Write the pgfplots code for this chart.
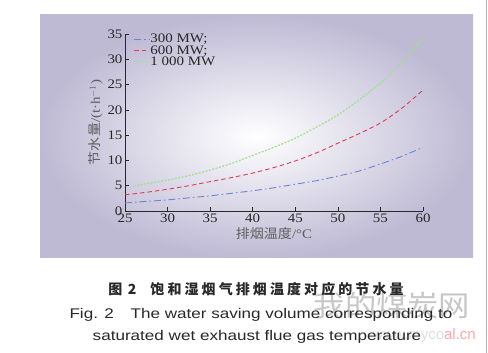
\documentclass[border=0pt]{standalone}
\usepackage{pgfplots}
\pgfplotsset{compat=1.18}
\usepackage{fontspec}
\setmainfont{Liberation Serif}[FakeStretch=1.15]
\newfontfamily\cjk{Noto Sans CJK SC}[FakeStretch=1.08]
\newfontfamily\cjkcap{Noto Sans CJK SC}[LetterSpace=22]
\newfontfamily\arial{Liberation Sans}[FakeStretch=1.22]
\newfontfamily\arialplain{Liberation Sans}
\definecolor{panel}{RGB}{190,186,212}
\definecolor{c300}{RGB}{110,130,215}
\definecolor{c600}{RGB}{225,60,90}
\definecolor{c1000}{RGB}{160,225,140}
\definecolor{txt}{RGB}{40,40,40}
\begin{document}
\begin{tikzpicture}[x=1pt,y=1pt]
\path[use as bounding box,fill=white] (0,0) rectangle (488,353);
\shade[inner color=white,outer color=panel] (40,95) rectangle (473,338);
\draw[gray!60,line width=0.6pt] (486,0) -- (486,353);
\begin{axis}[
  at={(125pt,142pt)}, anchor=south west,
  width=298pt, height=177pt, scale only axis,
  xmin=25, xmax=60, ymin=0, ymax=35,
  xtick={25,30,...,60}, ytick={0,5,...,35},
  axis lines=left, axis line style={-, txt, line width=0.8pt},
  tick style={txt, line width=0.7pt}, tick align=inside,
  major tick length=3.5pt,
  ticklabel style={font=\fontsize{13}{13}\selectfont, text=txt},
  /pgf/number format/assume math mode=true,
  xticklabel shift=-1pt,
  yticklabel shift=-1pt,
  xlabel={{\cjk 排烟温度}/°C},
  ylabel={{\cjk 节水量}/(t·h$^{-1}$)},
  label style={font=\fontsize{13}{13}\selectfont, text=txt!75},
  xlabel style={yshift=2pt},
  ylabel style={yshift=-2pt},
  legend style={at={(0.025,1.01)}, anchor=north west, draw=none, fill=none,
    font=\fontsize{13}{13}\selectfont, text=txt, row sep=0pt,
    inner sep=1pt, nodes={inner sep=0.6pt},
    /tikz/every even column/.append style={column sep=3pt}},
  legend cell align=left,
  legend image code/.code={\draw[#1] (0pt,0pt) -- (15pt,0pt);},
]
\addplot[c300, line width=0.9pt, dash pattern=on 7pt off 3pt on 1.5pt off 3pt, smooth] coordinates {
(25,1.6) (27.5,1.9) (30,2.2) (32.5,2.6) (35,3.0) (37.5,3.5) (40,4.0) (42.5,4.6) (45,5.3) (47.5,6.0) (50,6.9) (52.5,7.9) (55,9.3) (57.5,10.8) (60,12.6)};
\addlegendentry{300 MW;}
\addplot[c600, line width=0.9pt, dash pattern=on 4.5pt off 3pt, smooth] coordinates {
(25,3.2) (27.5,3.7) (30,4.3) (32.5,5.0) (35,5.8) (37.5,6.6) (40,7.5) (42.5,8.6) (45,9.9) (47.5,11.5) (50,13.4) (52.5,15.3) (55,17.4) (57.5,20.3) (60,23.9)};
\addlegendentry{600 MW;}
\addplot[c1000, line width=1.2pt, dash pattern=on 2pt off 1.5pt, smooth] coordinates {
(26,4.9) (27.5,5.4) (30,6.1) (32.5,7.0) (35,8.1) (37.5,9.4) (40,11.0) (42.5,12.6) (45,14.4) (47.5,16.6) (50,19.0) (52.5,22.0) (55,25.3) (57.5,29.3) (60,34.2)};
\addlegendentry{1 000 MW}
\end{axis}
\node[text=black!22,font=\cjk\fontsize{29}{29}\selectfont] at (392,48) {我的煤炭网};
\node[anchor=east,font=\arialplain\fontsize{15}{15}\selectfont,inner sep=0pt] at (476,17) {\textcolor{black!12}{www.myco}\textcolor{red!35}{al.cn}};
\node[font=\cjkcap\bfseries\fontsize{14}{14}\selectfont, text=txt] at (256,64) {图\hspace{0.4em}2\hspace{1em}饱和湿烟气排烟温度对应的节水量};
\node[font=\arial\fontsize{14}{14}\selectfont, text=txt] at (261,38) {Fig. 2\hspace{1.2em}The water saving volume corresponding to};
\node[font=\arial\fontsize{14}{14}\selectfont, text=txt] at (257,16) {saturated wet exhaust flue gas temperature};
\end{tikzpicture}
\end{document}
